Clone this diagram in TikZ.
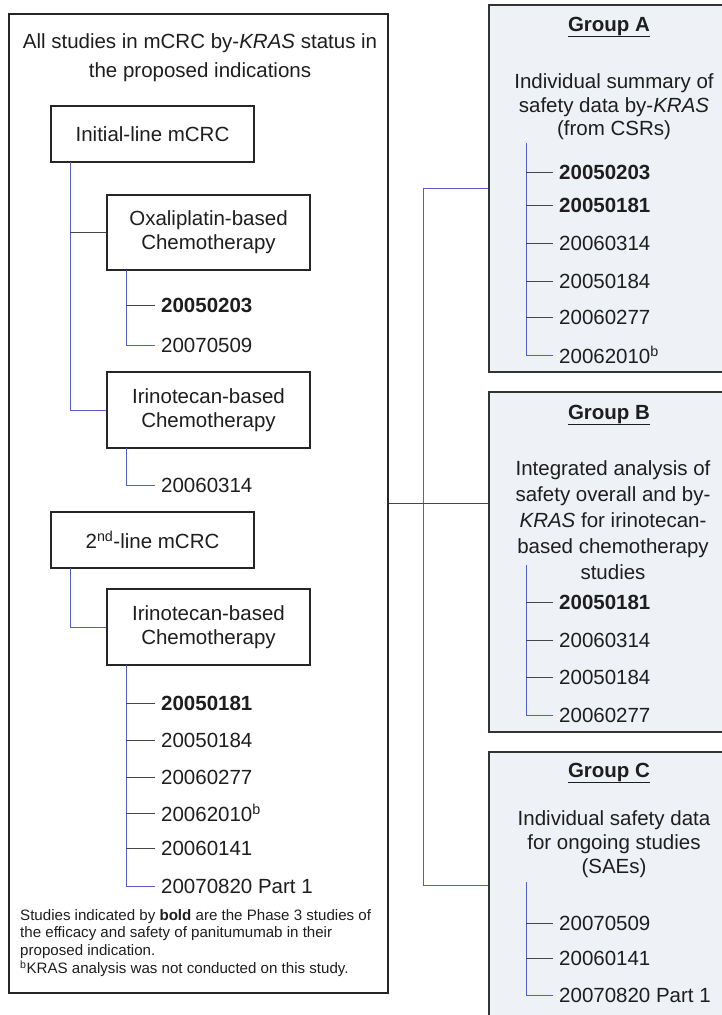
\documentclass[tikz,border=0pt]{standalone}
\usepackage{fontspec}
\setmainfont{Liberation Sans}
\definecolor{vblue}{RGB}{85,95,195}
\definecolor{hgray}{RGB}{70,70,70}
\definecolor{gfill}{RGB}{238,241,246}
\definecolor{txt}{RGB}{30,30,30}
\newcommand\myBig{\fontsize{20.5}{24}\selectfont}
\newcommand\mySmall{\fontsize{15.1}{17.7}\selectfont}
\begin{document}
\begin{tikzpicture}[x=1pt,y=-1pt,
  box/.style={draw=black!85, line width=1.3pt, minimum width=203pt, align=center, font=\myBig, text=txt, inner sep=0pt},
  gbox/.style={draw=black!80, line width=1.5pt, fill=gfill, inner sep=0pt},
  lbl/.style={anchor=west, font=\myBig, text=txt, inner xsep=6pt, inner ysep=0pt},
  gtxt/.style={align=center, font=\myBig, text=txt, inner sep=0pt},
  vl/.style={draw=vblue, line width=0.9pt},
  hl/.style={draw=hgray, line width=0.9pt}]
\useasboundingbox (0,0) rectangle (722,1015);
\clip (0,0) rectangle (722,1015);
\fill[white] (0,0) rectangle (722,1015);

% left big box
\node[draw=black!85, line width=1.4pt, minimum width=379pt, minimum height=979pt, inner sep=0pt] (left) at (198.5,503.5) {};
\node[gtxt, font=\fontsize{20.5}{29}\selectfont] (title) at (200,57.5) {All studies in mCRC by-\textit{KRAS} status in\\the proposed indications};

\node[box, minimum height=56pt] (init) at (152.5,134) {Initial-line mCRC};
\node[box, minimum height=75pt] (oxali) at (208.5,232.5) {Oxaliplatin-based\\Chemotherapy};
\node[box, minimum height=76pt] (irino1) at (208.5,410) {Irinotecan-based\\Chemotherapy};
\node[box, minimum height=56pt] (second) at (152.5,540) {2\textsuperscript{nd}-line mCRC};
\node[box, minimum height=76pt] (irino2) at (208.5,627) {Irinotecan-based\\Chemotherapy};

\node[lbl] (l1) at (155,305) {\textbf{20050203}};
\node[lbl] (l2) at (155,345) {20070509};
\node[lbl] (l3) at (155,485) {20060314};
\node[lbl] (l4) at (155,703) {\textbf{20050181}};
\node[lbl] (l5) at (155,740) {20050184};
\node[lbl] (l6) at (155,777) {20060277};
\node[lbl] (l7) at (155,813) {20062010\textsuperscript{b}};
\node[lbl] (l8) at (155,848) {20060141};
\node[lbl] (l9) at (155,886) {20070820 Part 1};

\coordinate (v1) at (70,162);
\coordinate (v2) at (126,270);
\coordinate (v3) at (126,448);
\coordinate (v4) at (70,568);
\coordinate (v5) at (126,665);

\draw[vl] (v1) |- (irino1.west);
\draw[hl] (v1 |- oxali.west) -- (oxali.west);
\draw[vl] (v2) |- (l2.west);
\draw[hl] (v2 |- l1.west) -- (l1.west);
\draw[vl] (v3) |- (l3.west);
\draw[vl] (v4) |- (irino2.west);
\draw[vl] (v5) |- (l9.west);
\draw[hl] (v5 |- l4.west) -- (l4.west);
\draw[hl] (v5 |- l5.west) -- (l5.west);
\draw[hl] (v5 |- l6.west) -- (l6.west);
\draw[hl] (v5 |- l7.west) -- (l7.west);
\draw[hl] (v5 |- l8.west) -- (l8.west);

\node[anchor=north west, align=left, font=\mySmall, text=txt, inner sep=0pt] (foot) at (20,909)
 {Studies indicated by \textbf{bold} are the Phase 3 studies of\\the efficacy and safety of panitumumab in their\\proposed indication.\\\textsuperscript{b}KRAS analysis was not conducted on this study.};

% right group boxes
\node[gbox, minimum width=251pt, minimum height=367pt] (gA) at (614.5,188.5) {};
\node[gbox, minimum width=251pt, minimum height=340pt] (gB) at (614.5,562) {};
\node[gbox, minimum width=251pt, minimum height=266pt] (gC) at (614.5,885) {};

\node[gtxt] (tA) at (609,27) {\underline{\textbf{Group A}}};
\node[gtxt, font=\fontsize{20.5}{23.5}\selectfont] (dA) at (614,107) {Individual summary of\\safety data by-\textit{KRAS}\\(from CSRs)};
\node[gtxt] (tB) at (609,415) {\underline{\textbf{Group B}}};
\node[gtxt, font=\fontsize{20.5}{26}\selectfont] (dB) at (613,520) {Integrated analysis of\\safety overall and by-\\\textit{KRAS} for irinotecan-\\based chemotherapy\\studies};
\node[gtxt] (tC) at (609,773) {\underline{\textbf{Group C}}};
\node[gtxt, font=\fontsize{20.5}{24}\selectfont] (dC) at (614,844) {Individual safety data\\for ongoing studies\\(SAEs)};

\node[lbl] (a1) at (553,172) {\textbf{20050203}};
\node[lbl] (a2) at (553,205) {\textbf{20050181}};
\node[lbl] (a3) at (553,243) {20060314};
\node[lbl] (a4) at (553,281) {20050184};
\node[lbl] (a5) at (553,317) {20060277};
\node[lbl] (a6) at (553,355) {20062010\textsuperscript{b}};

\node[lbl] (b1) at (553,602) {\textbf{20050181}};
\node[lbl] (b2) at (553,640) {20060314};
\node[lbl] (b3) at (553,677) {20050184};
\node[lbl] (b4) at (553,715) {20060277};

\node[lbl] (c1) at (553,923) {20070509};
\node[lbl] (c2) at (553,958) {20060141};
\node[lbl] (c3) at (553,995) {20070820 Part 1};

\coordinate (vA) at (526,143);
\coordinate (vB) at (526,565);
\coordinate (vC) at (526,882);
\draw[vl] (vA) |- (a6.west);
\foreach \n in {a1,a2,a3,a4,a5} \draw[hl] (vA |- \n.west) -- (\n.west);
\draw[vl] (vB) |- (b4.west);
\foreach \n in {b1,b2,b3} \draw[hl] (vB |- \n.west) -- (\n.west);
\draw[vl] (vC) |- (c3.west);
\foreach \n in {c1,c2} \draw[hl] (vC |- \n.west) -- (\n.west);

% connectors between left box and groups
\coordinate (jx) at (423,0);
\draw[vl] (gA.west) -- (gA.west -| jx) -- (gC.west -| jx) -- (gC.west);
\draw[hl] (left.east) -- (left.east -| gB.west);
\end{tikzpicture}
\end{document}
